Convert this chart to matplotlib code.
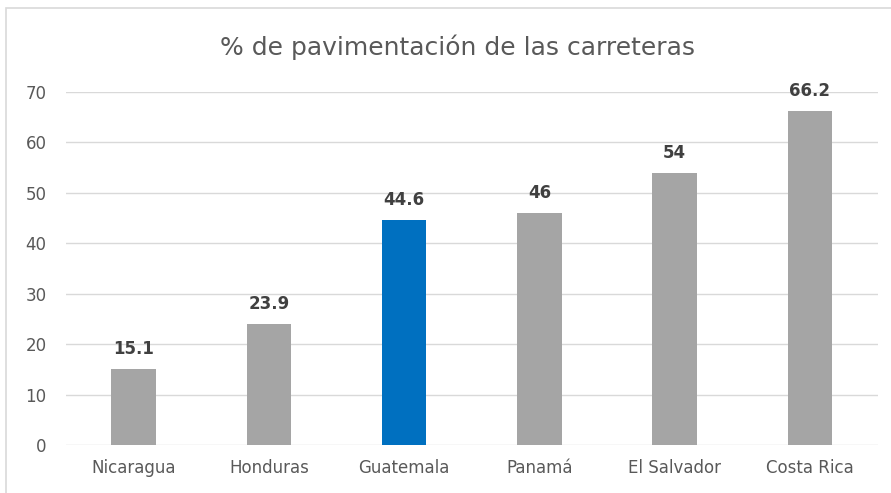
import matplotlib.pyplot as plt
from matplotlib.patches import Rectangle

paises = ["Nicaragua", "Honduras", "Guatemala", "Panamá", "El Salvador", "Costa Rica"]
valores = [15.1, 23.9, 44.6, 46, 54, 66.2]
etiquetas = ["15.1", "23.9", "44.6", "46", "54", "66.2"]
colores = ["#A5A5A5", "#A5A5A5", "#0070C0", "#A5A5A5", "#A5A5A5", "#A5A5A5"]

plt.rcParams['font.family'] = ['Liberation Sans Narrow', 'DejaVu Sans']

fig = plt.figure(figsize=(8.91, 4.93), dpi=100)
ax = fig.add_axes([0.074, 0.0974, 0.911, 0.716])

x = range(len(paises))
barras = ax.bar(x, valores, width=0.33, color=colores, zorder=3)
for b, t in zip(barras, etiquetas):
    ax.text(b.get_x() + b.get_width() / 2, b.get_height() + 2.2, t,
            ha='center', va='bottom', fontsize=12, fontweight='bold', color='#404040')

ax.set_ylim(0, 70)
ax.set_xlim(-0.5, len(paises) - 0.5)
ax.set_yticks(range(0, 71, 10))
ax.set_xticks(list(x))
ax.set_xticklabels(paises)
ax.tick_params(axis='both', length=0, labelsize=12, labelcolor='#595959')
ax.tick_params(axis='y', pad=14)
ax.tick_params(axis='x', pad=10)
ax.grid(axis='y', color='#D9D9D9', linewidth=1, zorder=0)
for s in ax.spines.values():
    s.set_visible(False)

fig.text(0.513, 0.905, "% de pavimentación de las carreteras", ha='center', va='center',
         fontsize=18, color='#595959')

fig.patches.append(Rectangle((6 / 891, -0.1), 1.2, 1 - 8 / 493 + 0.1, transform=fig.transFigure,
                             fill=False, edgecolor='#D9D9D9', linewidth=1.2))

fig.savefig("out.png", dpi=100)
